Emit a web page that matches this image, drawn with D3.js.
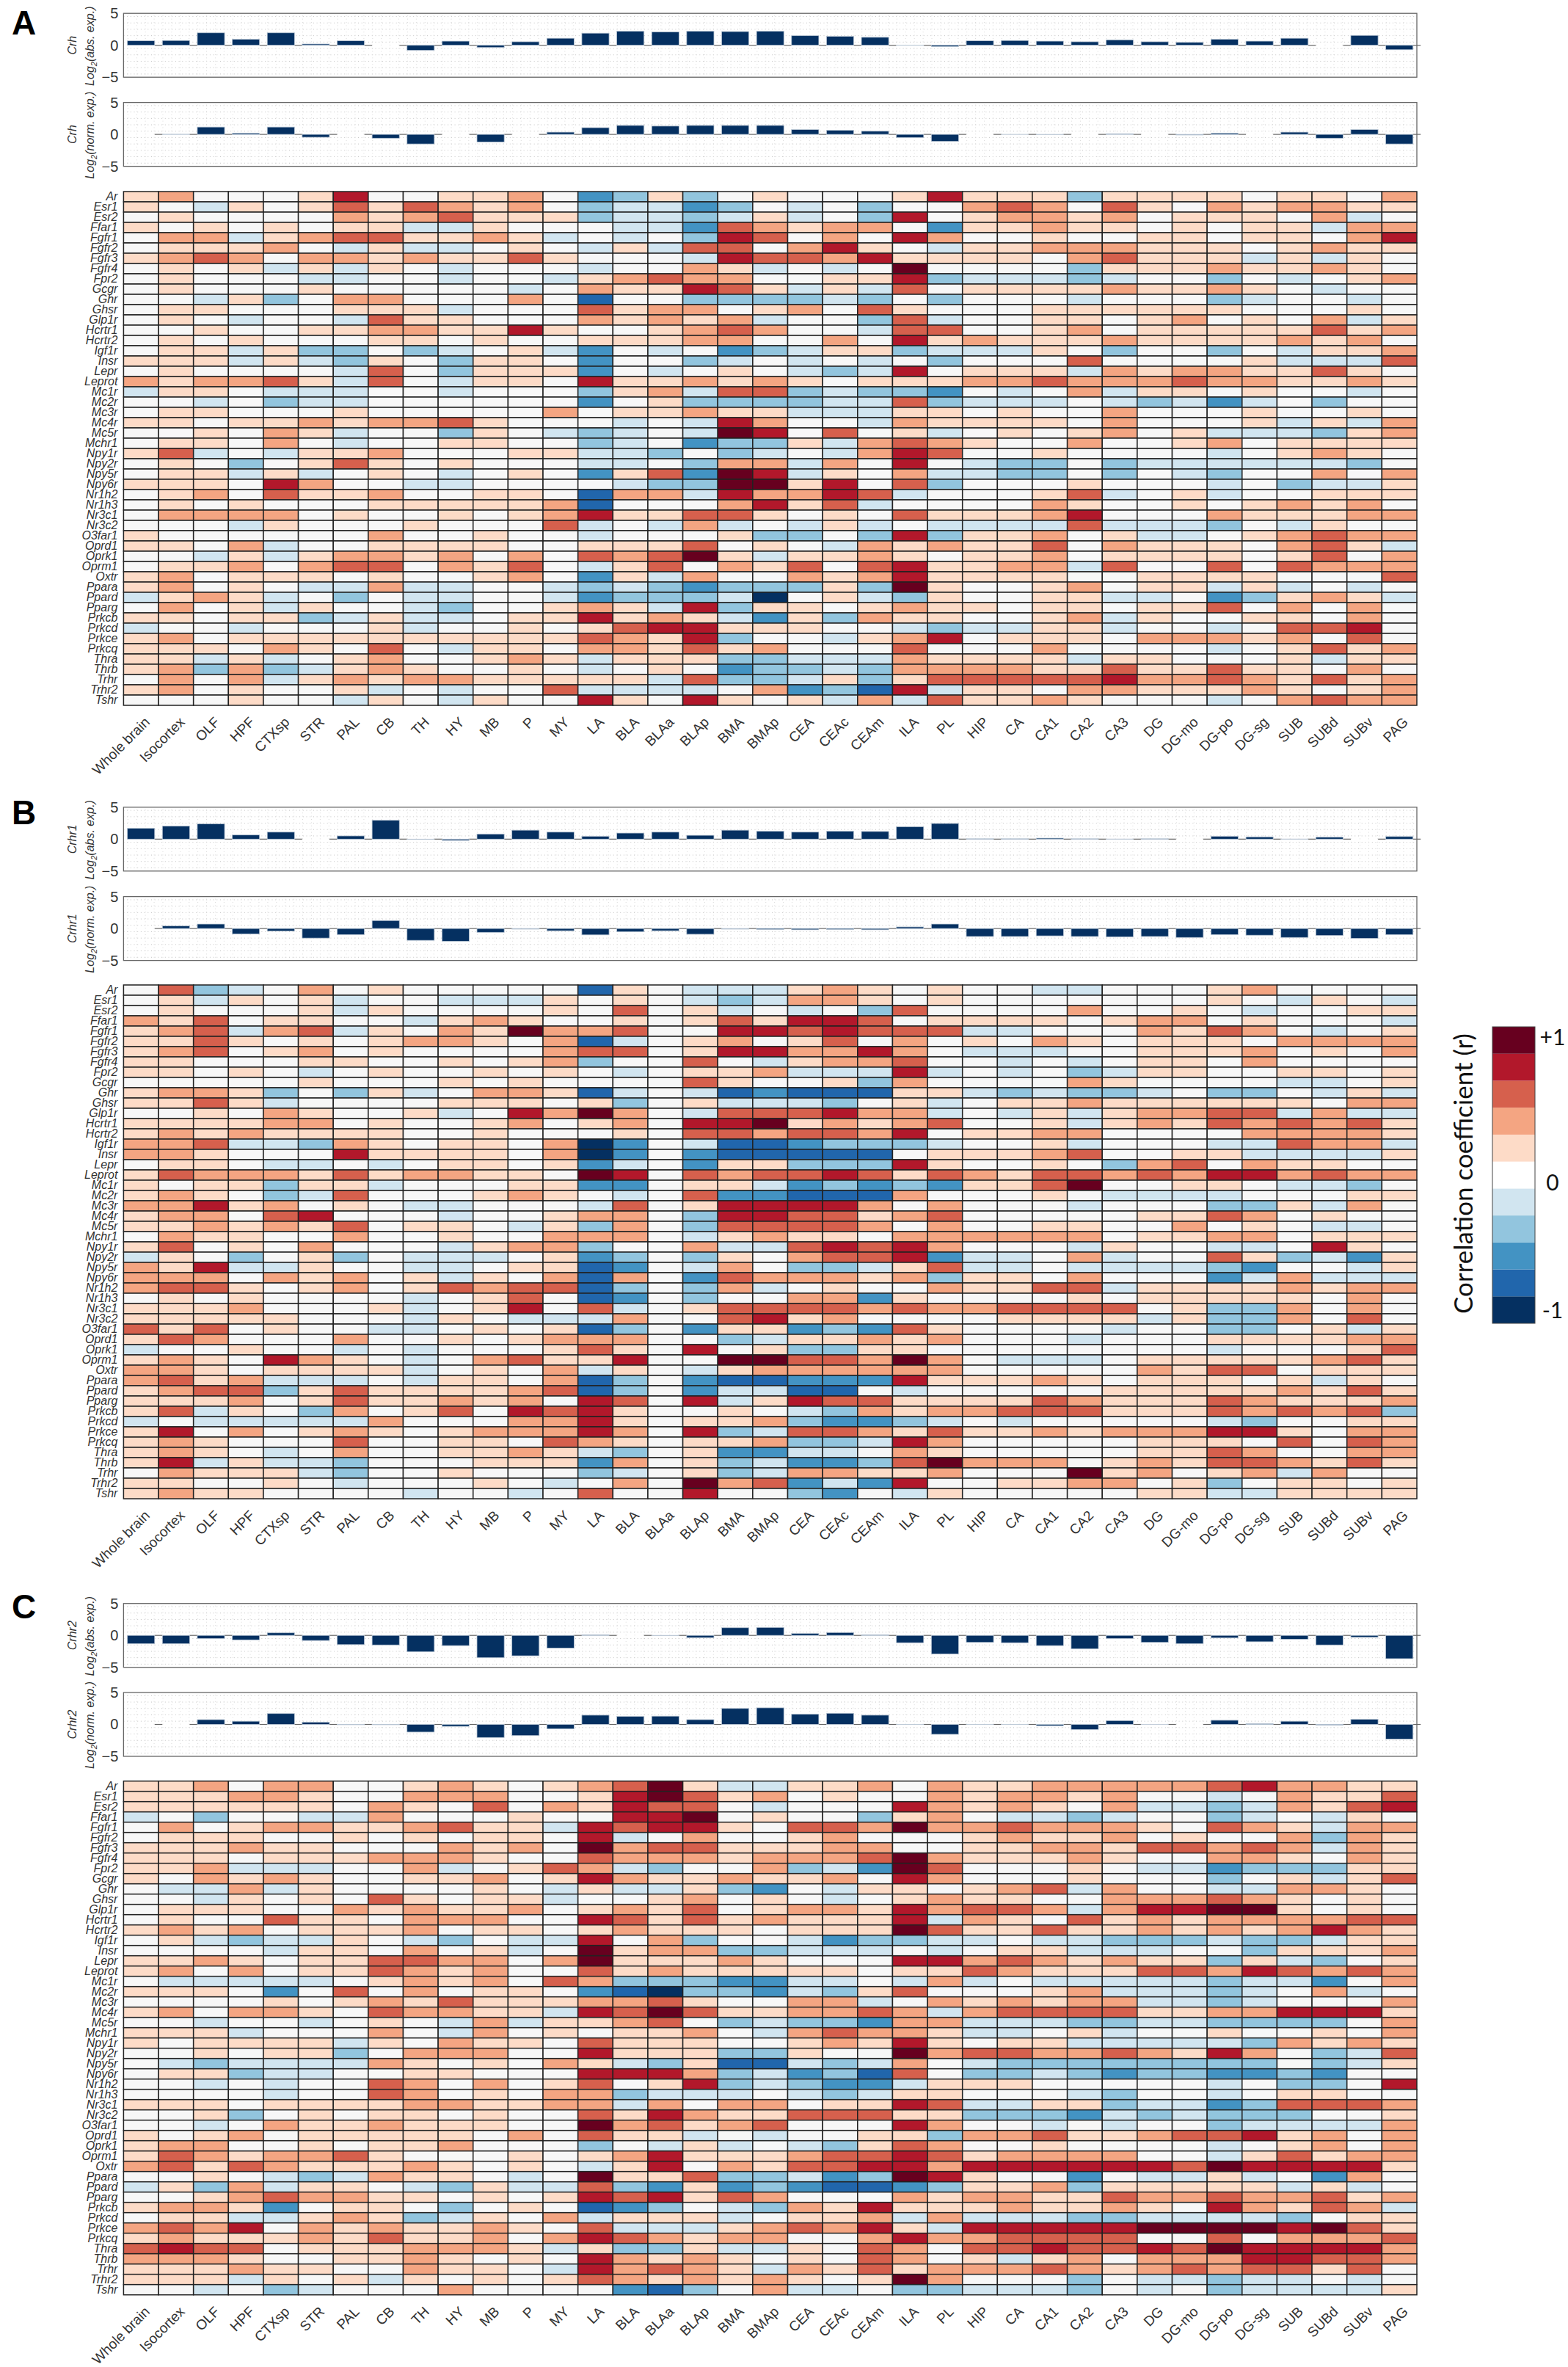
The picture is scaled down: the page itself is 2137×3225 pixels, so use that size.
<!DOCTYPE html>
<html>
<head>
<meta charset="utf-8">
<script src="https://cdn.jsdelivr.net/npm/d3@7"></script>
<style>
body { margin: 0; background: #fff; }
svg { display: block; }
text { font-family: "Liberation Sans", Arial, sans-serif; fill: #333; }
</style>
</head>
<body>
<div class="chart"></div>
<script>
var regions = ["Whole brain","Isocortex","OLF","HPF","CTXsp","STR","PAL","CB","TH","HY","MB","P","MY","LA","BLA","BLAa","BLAp","BMA","BMAp","CEA","CEAc","CEAm","ILA","PL","HIP","CA","CA1","CA2","CA3","DG","DG-mo","DG-po","DG-sg","SUB","SUBd","SUBv","PAG"];
var genes = ["Ar","Esr1","Esr2","Ffar1","Fgfr1","Fgfr2","Fgfr3","Fgfr4","Fpr2","Gcgr","Ghr","Ghsr","Glp1r","Hcrtr1","Hcrtr2","Igf1r","Insr","Lepr","Leprot","Mc1r","Mc2r","Mc3r","Mc4r","Mc5r","Mchr1","Npy1r","Npy2r","Npy5r","Npy6r","Nr1h2","Nr1h3","Nr3c1","Nr3c2","O3far1","Oprd1","Oprk1","Oprm1","Oxtr","Ppara","Ppard","Pparg","Prkcb","Prkcd","Prkce","Prkcq","Thra","Thrb","Trhr","Trhr2","Tshr"];

// log2 expression, one value per region
var crhAbs = [0.7,0.75,1.95,0.95,1.95,0.2,0.7,0,-0.8,0.65,-0.35,0.55,1.1,1.9,2.2,2.1,2.2,2.15,2.2,1.5,1.4,1.25,0.02,-0.2,0.7,0.75,0.65,0.55,0.85,0.55,0.45,0.95,0.65,1.1,0,1.55,-0.7];
var crhNorm = [0,0.02,1.15,0.2,1.15,-0.45,0,-0.6,-1.5,0,-1.2,0,0.35,1.05,1.4,1.3,1.4,1.4,1.4,0.75,0.65,0.5,-0.5,-1.1,0,0.01,-0.02,0,0.1,0,-0.1,0.2,0,0.35,-0.6,0.75,-1.5];
var crhr1Abs = [1.7,2.05,2.4,0.65,1.1,0,0.5,2.95,-0.05,-0.2,0.8,1.4,1.1,0.45,0.95,1.1,0.6,1.4,1.25,1.1,1.25,1.2,1.95,2.45,0.05,0.05,0.15,0.05,0.02,0.05,0,0.45,0.35,0.02,0.3,0,0.4];
var crhr1Norm = [0,0.4,0.7,-0.85,-0.4,-1.5,-0.95,1.25,-1.85,-2,-0.6,-0.1,-0.35,-1,-0.5,-0.35,-0.9,-0.1,-0.15,-0.2,-0.15,-0.2,0.25,0.7,-1.25,-1.25,-1.15,-1.25,-1.3,-1.25,-1.4,-0.95,-1.05,-1.4,-1.1,-1.55,-0.95];
var crhr2Abs = [-1.3,-1.3,-0.5,-0.7,0.4,-0.8,-1.45,-1.5,-2.55,-1.6,-3.5,-3.2,-2,0.1,0,-0.02,-0.35,1.2,1.25,0.3,0.45,0.1,-1.15,-2.9,-1.1,-1.15,-1.6,-2.1,-0.5,-1.1,-1.3,-0.4,-1,-0.6,-1.5,-0.3,-3.65];
var crhr2Norm = [0,0,0.75,0.5,1.7,0.35,-0.05,-0.05,-1.2,-0.3,-2.05,-1.75,-0.7,1.45,1.25,1.3,0.75,2.5,2.6,1.6,1.75,1.45,0.02,-1.55,0.02,0.02,-0.2,-0.8,0.6,0.01,0,0.65,0.1,0.5,-0.1,0.8,-2.3];

// correlation bands, rows = genes, columns = regions
// n = neutral, 1-5 = positive bands, a-e = negative bands
var corrCrh = [
"12nnn14nn112ncb1b n1nnn14111b1111n11n2","1na1n1313212nbaac bnanbnn232n31n212211","n1nnnn2123111baab a1anb4n12212n111n2an","1n1n1n11aa1nnnaac 32122nc11211n1n11a22","n22a12331121ananb 43n2n42nn1nn11n11n24",
"n1112na1aan1na1a3 3n241na11222111n1211","1232n22121131nnna 433241111n23111a1a1n","n1n1a1a1nannnann2 1anan5nnnnb11121121n","n1nnnaannanna1232 2nn114baaabannbnan12","n1nnn1nnnnnan2114 31a1a3n111121121nann",
"nna1bn22nnn2ndnnb bbbabnbnnnannnbannan","n11nnn111annn3122 n12n31nnn111111nnn1n","n1nanna311nnn2121 2annb3ann11n12n1n2a1","nn1nn11221141nn12 32nna33nn12n11111312","n1n1nnn11n1nn1112 2nn2n41211121111212n",
"n11a1bbnban1acnan cba11baaa1nbnnbna112","111a1ab1nb11ncnnb anananbnnn3nnnn1aaa3","n1nnnna3nb111cnan 1naba4n111a21221131n","212231a3na11n4112 121n1112232223221121","a11naaannannnb12a 33babbcnan2a11n1nnan",
"nnanbaannnnnncn1b bbbaa3baaanabacanbnn","n11nnn1nnnnn2n112 11aaa11n1nn2nnn1nn1n","11n11212231nnnana 42nna21111n2nnn1a1a2","nn1n21annb1nabana 54n3n1an1n12n1aaab12","n11n2nann11nnbanc bb1a2321nn2nn12n1111",
"13ana112nnn11aabn bana243nn1nnnnan121n","n1nbn131n1nnnaanb 22a2n4nabbnbaaaaaabn","n11a1an1nan1nc13c 54a1n2aabbnbnabnn2n2","111n42nnaannnnabb 5514n3bnnn1nnnanbaa1","n12n3112nn11nd22a 42243annn13an1ann111",
"n1n1nnn111112dnnn 2413annnn21nn1n1212n","n2222n1nn1n124113 31n1n311124nnn211122","nnna1nnn1nnn3ana2 ana1anaaaa3aaabna1nn","1nnnnnn2nn1nnannn 1bbnb4b112n1aan12322","11n2ann1111nn1113 n1na212113n2111n231a",
"nna1a12212n2n3235 1a1121n112n1111n13n2","n112n233n213na13n 213n341122a3nn3n3222","12n111n1nn12nc1a2 nn21241111nn1111nnn3","12n1naa2aannababc bbb1b51nn12n11a1anan","a121anbnaannacbbb aen1ab1nn11aancb121a",
"n2n1a1nnabnn121a4 b11n1211n11n113n2n2n","11n11ba1aan114121 ac1b211nn12a1nn11n2n","annannn1ann1n1344 111nnabaa11annan334n","12n11111111113214 bnna124n111n22212n3n","111n21n3na11n2213 12nnn3nnn2nnnnan1312",
"11a1an12nn121a111 bbaaa21111a11nnn1a11","12b2ba121nn1nan1n cbbab222211311311n2n","n2n2a1212211111a3 bba1b133333422321312","12n1nn1anann3aaaa n2cbd4a11n2211121n12","nnn1nna1na1nn41n4 1n1a2a31121nnnan2322"
];
var corrCrhr1 = [
"n3ban2n1nnnnnd1na aa121n1nnaannn12nnnn","n1a1n1annaaa1n1na ba221n1nnnnnnn1na1na","n1nnn1a1nnnn1n3n1 ananb3nnnn2nn1nann11","213n11nna121nn1n1 31443n1111n122n1nnna","123a23a1n215223nn 4434333aannn2132nan1",
"1131n1n1221n2dan1 2n13n2n1n21n111n2222","123n12n1nnnn233n1 442242naaann1112n1n2","11nnn11nn1n12bnn3 na1223nnanan11n2nnnn","11n1nan1nn1n1nan1 12aaa4ananba11nn11n1","nnnnn1nnn1n1nnnn3 1nn1b2nnnn21nnnnaan1",
"1221bnb1an221dana dcddd11ababbanbbna1a","1131annnn111n1bn1 aaabn1an112111111n22","nn1n21nn1an4252na 333422ana1a12233a2aa","111122n1nn12n12n4 4512123nn1a121323231","12121111nn1nnn1n3 323324n1122nnnn22221",
"223aab21n11n2ecna ddcbbbann1annnaa322a","221nnn41111n2ecnc dddddn11123nn11aaaa1","n11naanan11n1canc 11bbb41nn1nb23n211nn","132221312211n54n3 23343132133232442322","1n11b11annn11ccn1 1acbcbc1135nn11naabn",
"121nba3nnn121nan3 ccddd2nnn1naaaannn11","22412n1naannna3n1 44442n2nnnannnbb1a2n","122n34nnnann122nb 4433123nnnnn1132n1nn","1121213n11na1b2nb 33332n2nn11nn2n1naan","n211nn2nn1nn222na 1211n222222n1122n111",
"13n1n2nnna122bnn2 aa34342nnna1nnaan41n","a1nbn1bnaaan1cbnb 1n2334caan2ann31bac1","214aa1nnaan11dcna 2nbba13aanaaaabcnna1","222n212n1a1n2d2nc 322212b11n2nnnca2aaa","2331n12n13233dbnb 2an1nn21133a11112122",
"n1n1nnnnan13ndcnb nn22c1nnnn1n11111n2n","1112nnn1an14n3an1 333323223333n1bb2n2n","11111nnna1naaa2nn 3412nnnn1111a1bb2n3n","313n1nnaan1n1dbnc 11cbc31nnnnannbbn1a1","132nnn2nn1n1222nn ba11212nnnannn111122",
"ann1nnanannn131n4 n1bb11nnnnnnnnannn13","121n421nan23114nn 5533252naaan11111231","221n1111an1n2a1na 1222222nnnnn2133n111","2312aaana11n2dbnc ddccc411121n111n1a1n","1233b13111123dbnc aaddnannnnn111112131",
"1112n1311212n43n4 a1433111132111321112","13a1nb2n13n4341nn 1nab212233311132323b","anaaaaa2nnn2241n1 12bccbanannnnnabnn11","14n2n121n122242n4 ba332131121222441n22","121nnn3nn11n321n1 12bba42nnnnn111n3n32",
"121nan2nn1121abn1 ccaan21nnnnn1132nn22","14a1aabnnn111c2n1 baccb35222n121332131","n2111abnn1nnnban1 ba22112nnn512n12a2nn","11nn1nannn1nan2n5 23cac4nn1122n1bn11n1","1211nnnnannan3nn4 nnbcna1nnnnn11aa1111"
];
var corrCrhr2 = [
"112n22nn121n12351 aa112n21122222342211","111221nn222nn1453 12n1nn212212nnan2113","111111n21n3n21433 nannn42121n2aaba2134","anbnnaa2nnn1nn445 n1nnb12naabannbana1n","n2n122112311a4344 1n33252232221n321a22",
"n111nn1n1n11n4an2 nn12nnn12112n1nn2b21","111211nnn212n5233 11122nn1122133232a21","111n1112221nn3222 122235211121nn221n21","112aaann2an132abn n2bac53nnn1naacbbb11","1n2121nn112n14211 2112n42nnn1nnnbn1a13",
"naa2a1nnnn1na1aa1 bcna11n123a2nnaa221n","nna1n1n31n11ann12 n1nan1211nn222321n1n","n111nn212112n1213 n122142332a244551n1n","n1nn311n222nn4313 121114a21n3121222233","1212n1112n11n1211 1n111531131121212421",
"n1abaa1nabnaa4n2b nnacbbaanaabbbabba11","nnnna11n2n1an5122 bbaaanan11aaannb1112","1121n113322n25111 21nnn442321211b1abn1","12n2n113212nn3121 1111n113211133243232","naaaaan1212n32bbb ccaana2anaaaaabaacn2",
"111ncn3n2n11ncdeb bcab13nnn12aaaban2an","nnnn1n12131112231 nn22an212122aabannn2","12n221n32211a4353 112232a2333311224441","nnannan1na2a1123n babbc22aaabbaabbbbn2","111annn2na2n1n112 na23221aan1ann1nn1n2",
"1n1111a1n211n3111 nn12141n11aaaaab2121","nn1n11bn222nn4111 bb1nn52332232142nba3","nabaaaa21n1n21ab1 ddaba2nabbbbbbbbnba1","n11baann11nnn4442 bacbd3nbbabcbbccbcnn","nnanann32n2n13n14 babcca111nnnnnanbbn4",
"nnnnann32n1n22baa anaba11nnnabnnan11nn","111n1111221122a2n 22n1143aa11baacb3332","nn1bn1n11n1nn3142 1133311bbbcababbbnn1","nnan2112111nn5231 23nnn42nnanannbaaaa2","1n12n11111n2n311a nann11b22311233412n2",
"122nn1n112nnnbna1 anab132nn1nnnnan12n2","13212231nnn1n1241 112334312222nna13122","2313211121n1na14n 21334424444443544441","nn1naba211nan5113 bbacb541nncnaa1anc2n","a1b2a11nab1aa3bc1 cbcddcb112b11111a1an",
"nn1232211n1n14341 32nnn212211322322312","1221cn11nbn1ndcbn ab21411121121n42132a","n11aa121ba1n2a111 an112a2aaabbaaaabn11","2324n2121121n3aaa 123241a4444455554531","12111213112n24321 22nn24223333nn3n2223",
"3433n1112221a1bb1 aa1n32n3343343544442","2221nn1121n1n4212 1n1n32n1a12n22244332","111211nn211na4232 1a21312223212323313n","111a1n1a1n1n13212 121n152nnnbnaabaanan","nnanbannn2nnnncdb n2aanbbaaabnanbaaaa1"
];

var bandCodes = "edcban12345";
var legendTicks = [{label: "+1", r: 0.93}, {label: "0", r: -0.05}, {label: "-1", r: -0.91}];

var layout = [
  {letter: "A", letterY: 47,   gene: "Crh",   abs: crhAbs,   norm: crhNorm,   corr: corrCrh,   absTop: 18.2,   normTop: 139.6,  heatTop: 261},
  {letter: "B", letterY: 1123, gene: "Crhr1", abs: crhr1Abs, norm: crhr1Norm, corr: corrCrhr1, absTop: 1099.8, normTop: 1221.6, heatTop: 1342},
  {letter: "C", letterY: 2205, gene: "Crhr2", abs: crhr2Abs, norm: crhr2Norm, corr: corrCrhr2, absTop: 2184.7, normTop: 2306,   heatTop: 2426.7}
];

var W = 2137, H = 3225,
    left = 168.4, right = 1931,
    barH = 87, heatH = 700;

var svg = d3.select(".chart").append("svg")
    .attr("width", W)
    .attr("height", H);

var x = d3.scaleBand().domain(regions).range([left, right]);
var xBar = d3.scaleBand().domain(regions).range([left, right]).paddingInner(0.22).paddingOuter(0.11);
var color = d3.scaleQuantize().domain([-1, 1]).range(d3.schemeRdBu[11].slice().reverse());

function codeToR(c) {
  return (bandCodes.indexOf(c) - 5) * 2 / 11;
}

function barPanel(top, values, gene, kind) {
  var y = d3.scaleLinear().domain([-5, 5]).range([top + barH, top]);
  var g = svg.append("g");

  g.append("g").selectAll("line").data(d3.range(-4.5, 5, 1)).enter().append("line")
      .attr("x1", left).attr("x2", right)
      .attr("y1", function(d) { return y(d); })
      .attr("y2", function(d) { return y(d); })
      .attr("stroke", "#c4c4c4").attr("stroke-width", 1).attr("stroke-dasharray", "1 3.7");
  g.append("g").selectAll("line").data(d3.range(0, regions.length * 4)).enter().append("line")
      .attr("x1", function(d) { return left + (d + 0.5) * x.bandwidth() / 4; })
      .attr("x2", function(d) { return left + (d + 0.5) * x.bandwidth() / 4; })
      .attr("y1", top + 3).attr("y2", top + barH - 3)
      .attr("stroke", "#dcdcdc").attr("stroke-width", 1).attr("stroke-dasharray", "1 3.4");

  // baseline only shows in the gaps between the bars
  g.append("g").selectAll("line").data(regions).enter().append("line")
      .attr("x1", function(d) { return xBar(d) + xBar.bandwidth(); })
      .attr("x2", function(d) { return xBar(d) + x.bandwidth(); })
      .attr("y1", y(0)).attr("y2", y(0))
      .attr("stroke", "#666").attr("stroke-width", 1.2);

  g.append("g").selectAll("rect").data(values).enter().append("rect")
      .attr("x", function(d, i) { return xBar(regions[i]); })
      .attr("width", xBar.bandwidth())
      .attr("y", function(d) { return y(Math.max(d, 0)); })
      .attr("height", function(d) { return Math.abs(y(d) - y(0)); })
      .attr("fill", "#053061")
      .attr("stroke", "#b9c6d4").attr("stroke-width", 0.8);

  g.append("rect")
      .attr("x", left).attr("y", top)
      .attr("width", right - left).attr("height", barH)
      .attr("fill", "none").attr("stroke", "#666").attr("stroke-width", 1.3);

  var axis = g.append("g")
      .attr("transform", "translate(" + left + ",0)")
      .call(d3.axisLeft(y).tickValues([-5, 0, 5]).tickSize(0).tickPadding(7).tickFormat(d3.format("d")));
  axis.select(".domain").remove();
  axis.selectAll("text").style("font-size", "20px").attr("fill", "#333");

  var cy = top + barH / 2;
  g.append("text")
      .attr("transform", "translate(104," + cy + ") rotate(-90)")
      .attr("text-anchor", "middle")
      .style("font-size", "16px").style("font-style", "italic")
      .text(gene);
  var log = g.append("text")
      .attr("transform", "translate(128," + (cy + 1) + ") rotate(-90)")
      .attr("text-anchor", "middle")
      .style("font-size", "16px").style("font-style", "italic");
  log.append("tspan").text("Log");
  log.append("tspan").attr("dy", 4).style("font-size", "11px").text("2");
  log.append("tspan").attr("dy", -4).text("(" + kind + " exp.)");
}

function heatPanel(top, rows) {
  var y = d3.scaleBand().domain(genes).range([top, top + heatH]);
  var cells = [];
  rows.forEach(function(row, r) {
    var codes = row.replace(/ /g, "");
    codes.split("").forEach(function(c, i) {
      cells.push({gene: genes[r], region: regions[i], r: codeToR(c)});
    });
  });

  var g = svg.append("g");
  g.append("g").selectAll("rect").data(cells).enter().append("rect")
      .attr("x", function(d) { return x(d.region); })
      .attr("y", function(d) { return y(d.gene); })
      .attr("width", x.bandwidth())
      .attr("height", y.bandwidth())
      .attr("fill", function(d) { return color(d.r); })
      .attr("stroke", "#222").attr("stroke-width", 1.5);

  var yAxis = g.append("g")
      .attr("transform", "translate(" + left + ",0)")
      .call(d3.axisLeft(y).tickSize(0).tickPadding(8));
  yAxis.select(".domain").remove();
  yAxis.selectAll("text").style("font-size", "16px").style("font-style", "italic").attr("fill", "#333");

  var xAxis = g.append("g")
      .attr("transform", "translate(0," + (top + heatH) + ")")
      .call(d3.axisBottom(x).tickSize(0).tickPadding(0));
  xAxis.select(".domain").remove();
  xAxis.selectAll("text")
      .style("font-size", "19px")
      .style("text-anchor", "end")
      .attr("fill", "#333")
      .attr("dy", 0)
      .attr("y", 0)
      .attr("transform", "translate(13,24) rotate(-45)");
}

layout.forEach(function(p) {
  svg.append("text")
      .attr("x", 16).attr("y", p.letterY)
      .style("font-size", "46px").style("font-weight", "bold").style("fill", "#000")
      .text(p.letter);
  barPanel(p.absTop, p.abs, p.gene, "abs.");
  barPanel(p.normTop, p.norm, p.gene, "norm.");
  heatPanel(p.heatTop, p.corr);
});

// colour legend
var legendY = d3.scaleLinear().domain([-1, 1]).range([1803, 1399]);
var legend = svg.append("g");
legend.selectAll("rect").data(color.range()).enter().append("rect")
    .attr("x", 2034).attr("width", 58)
    .attr("y", function(d) { return legendY(color.invertExtent(d)[1]); })
    .attr("height", function(d) { var e = color.invertExtent(d); return legendY(e[0]) - legendY(e[1]); })
    .attr("fill", function(d) { return d === "#f7f7f7" ? "#fff" : d; });
legend.append("rect")
    .attr("x", 2034).attr("y", 1399).attr("width", 58).attr("height", 404)
    .attr("fill", "none").attr("stroke", "#444").attr("stroke-width", 1);
legend.selectAll(".tick-label").data(legendTicks).enter().append("text")
    .attr("class", "tick-label")
    .attr("x", 2116)
    .attr("y", function(d) { return legendY(d.r); })
    .attr("dy", "0.36em")
    .attr("text-anchor", "middle")
    .style("font-family", "Lato, sans-serif").style("font-size", "30px").style("fill", "#111")
    .text(function(d) { return d.label; });
legend.append("text")
    .attr("transform", "translate(2007,1599) rotate(-90)")
    .attr("text-anchor", "middle")
    .style("font-family", "Lato, sans-serif").style("font-size", "35px").style("fill", "#111")
    .text("Correlation coefficient (r)");
</script>
</body>
</html>
